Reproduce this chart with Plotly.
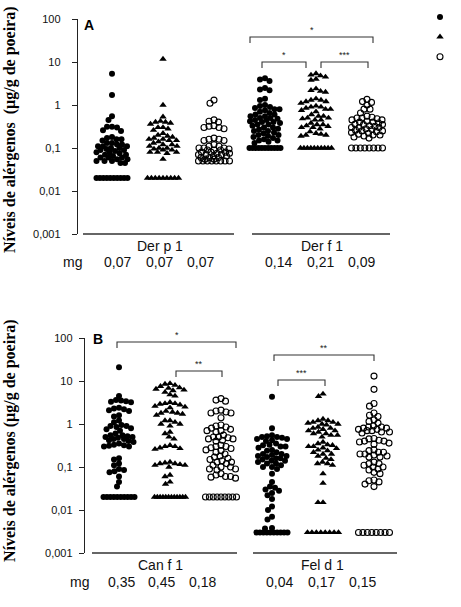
import numpy as np
import plotly.graph_objects as go

# ---------------- data ----------------
y_tickvals = [0.001, 0.01, 0.1, 1, 10, 100]
y_ticktext = ["0,001", "0,01", "0,1", "1", "10", "100"]

panel_labels = ["A", "B"]
allergens_A = ["Der p 1", "Der f 1"]
allergens_B = ["Can f 1", "Fel d 1"]
mg_label = "mg"
mg_A = ["0,07", "0,07", "0,07", "0,14", "0,21", "0,09"]
mg_B = ["0,35", "0,45", "0,18", "0,04", "0,17", "0,15"]
y_title_A = "Níveis de alérgenos\u00a0 (µg/g de poeira)"
y_title_B = "Níveis de alérgenos (µg/g de poeira)"

der_p1_circle = [5.3, 1.7, 0.55, 0.45, 0.31, 0.31, 0.30, 0.26, 0.25, 0.18, 0.17, 0.16, 0.16, 0.15,
                 0.13, 0.13, 0.12, 0.12, 0.11, 0.11, 0.11, 0.10, 0.10, 0.095, 0.09, 0.09, 0.085,
                 0.08, 0.08, 0.075, 0.07, 0.07, 0.065, 0.06, 0.06, 0.06, 0.055, 0.055, 0.05, 0.05,
                 0.05, 0.045, 0.045, 0.02, 0.02, 0.02, 0.02, 0.02, 0.02, 0.02, 0.02, 0.02, 0.02]
der_p1_triangle = [11.7, 1.0, 0.53, 0.42, 0.40, 0.40, 0.38, 0.36, 0.30, 0.30, 0.28, 0.26, 0.22,
                   0.20, 0.19, 0.18, 0.17, 0.16, 0.16, 0.15, 0.15, 0.14, 0.13, 0.12, 0.12, 0.11,
                   0.11, 0.10, 0.10, 0.095, 0.09, 0.09, 0.08, 0.08, 0.08, 0.075, 0.055,
                   0.02, 0.02, 0.02, 0.02, 0.02, 0.02, 0.02, 0.02, 0.02]
der_p1_open = [1.3, 1.1, 0.45, 0.42, 0.40, 0.33, 0.32, 0.30, 0.30, 0.28, 0.17, 0.16, 0.16, 0.15,
               0.15, 0.12, 0.11, 0.11, 0.10, 0.10, 0.10, 0.095, 0.09, 0.09, 0.09, 0.08, 0.08,
               0.08, 0.075, 0.075, 0.07, 0.07, 0.07, 0.065, 0.065, 0.06, 0.06, 0.06, 0.055, 0.055,
               0.05, 0.05, 0.05, 0.05, 0.05, 0.05, 0.05, 0.05]
der_f1_circle = [4.2, 3.9, 3.6, 2.5, 2.3, 2.2, 1.4, 1.3, 1.0, 0.95, 0.9, 0.85, 0.8, 0.8, 0.75,
                 0.7, 0.65, 0.6, 0.6, 0.55, 0.55, 0.5, 0.5, 0.48, 0.45, 0.45, 0.42, 0.4, 0.4,
                 0.38, 0.35, 0.35, 0.33, 0.3, 0.3, 0.28, 0.27, 0.25, 0.25, 0.23, 0.22, 0.2, 0.2,
                 0.19, 0.18, 0.17, 0.16, 0.15, 0.15, 0.14, 0.13,
                 0.1, 0.1, 0.1, 0.1, 0.1, 0.1, 0.1, 0.1, 0.1, 0.1, 0.1]
der_f1_triangle = [5.4, 5.0, 4.8, 4.5, 4.0, 3.8, 2.4, 2.2, 2.1, 2.0, 1.4, 1.3, 1.3, 1.2, 1.2,
                   1.1, 0.95, 0.9, 0.9, 0.85, 0.8, 0.8, 0.75, 0.7, 0.6, 0.55, 0.55, 0.5, 0.5,
                   0.48, 0.45, 0.45, 0.38, 0.35, 0.35, 0.33, 0.32, 0.3, 0.3, 0.28, 0.24, 0.22,
                   0.21, 0.2, 0.2, 0.19,
                   0.1, 0.1, 0.1, 0.1, 0.1, 0.1, 0.1, 0.1, 0.1, 0.1]
der_f1_open = [1.35, 1.2, 1.15, 1.0, 0.8, 0.8, 0.65, 0.55, 0.52, 0.5, 0.5, 0.48, 0.45, 0.45,
               0.42, 0.4, 0.4, 0.38, 0.36, 0.35, 0.35, 0.33, 0.32, 0.3, 0.3, 0.3, 0.28, 0.27,
               0.26, 0.25, 0.25, 0.24, 0.23, 0.22, 0.21, 0.2, 0.2, 0.19, 0.18, 0.17,
               0.1, 0.1, 0.1, 0.1, 0.1, 0.1, 0.1, 0.1]

can_f1_circle = [21, 4.5, 3.6, 3.5, 3.4, 3.3, 3.2, 2.4, 2.3, 2.2, 2.1, 2.0, 1.6, 1.5, 1.2, 1.1,
                 0.95, 0.9, 0.9, 0.85, 0.8, 0.75, 0.7, 0.6, 0.55, 0.55, 0.52, 0.5, 0.5, 0.48,
                 0.45, 0.45, 0.42, 0.4, 0.38, 0.35, 0.33, 0.32, 0.31, 0.3, 0.3, 0.16, 0.15, 0.12,
                 0.11, 0.09, 0.085, 0.08, 0.075, 0.06, 0.045, 0.035,
                 0.02, 0.02, 0.02, 0.02, 0.02, 0.02, 0.02, 0.02, 0.02, 0.02]
can_f1_triangle = [8.8, 8.5, 8.0, 7.5, 7.0, 6.8, 6.5, 6.2, 6.0, 5.5, 4.8, 4.5, 3.2, 3.0, 3.0,
                   2.9, 2.8, 2.6, 2.5, 2.4, 2.0, 1.9, 1.8, 1.8, 1.7, 1.6, 1.2, 1.2, 1.1, 1.0,
                   1.0, 0.9, 0.65, 0.6, 0.5, 0.45, 0.32, 0.3, 0.3, 0.28, 0.27, 0.26, 0.13, 0.125,
                   0.12, 0.12, 0.115, 0.11, 0.11, 0.1, 0.065, 0.06, 0.045, 0.04,
                   0.02, 0.02, 0.02, 0.02, 0.02, 0.02, 0.02, 0.02, 0.02, 0.02, 0.02, 0.02]
can_f1_open = [3.9, 3.6, 3.4, 2.1, 2.0, 1.9, 1.8, 1.8, 1.4, 0.95, 0.9, 0.85, 0.8, 0.75, 0.7,
               0.7, 0.65, 0.55, 0.5, 0.5, 0.48, 0.45, 0.45, 0.42, 0.4, 0.32, 0.3, 0.3, 0.28,
               0.27, 0.25, 0.24, 0.22, 0.2, 0.18, 0.17, 0.16, 0.15, 0.14, 0.13, 0.13, 0.12,
               0.11, 0.1, 0.1, 0.09, 0.09, 0.085, 0.07, 0.065, 0.06, 0.06, 0.058, 0.055,
               0.02, 0.02, 0.02, 0.02, 0.02, 0.02, 0.02, 0.02, 0.02]
fel_d1_circle = [4.3, 0.8, 0.55, 0.52, 0.5, 0.5, 0.48, 0.45, 0.45, 0.42, 0.4, 0.35, 0.33, 0.32,
                 0.3, 0.3, 0.28, 0.25, 0.24, 0.22, 0.2, 0.2, 0.19, 0.18, 0.18, 0.17, 0.16, 0.16,
                 0.15, 0.14, 0.14, 0.13, 0.12, 0.12, 0.11, 0.1, 0.1, 0.09, 0.07, 0.045, 0.035,
                 0.033, 0.03, 0.028, 0.025, 0.022, 0.018, 0.012, 0.01, 0.007, 0.006, 0.0038,
                 0.0037, 0.003, 0.003, 0.003, 0.003, 0.003, 0.003, 0.003, 0.003, 0.003, 0.003]
fel_d1_triangle = [5.0, 4.4, 1.3, 1.2, 1.2, 1.1, 1.1, 1.05, 1.0, 1.0, 0.95, 0.85, 0.8, 0.8, 0.75,
                   0.7, 0.7, 0.65, 0.6, 0.6, 0.55, 0.55, 0.5, 0.38, 0.35, 0.33, 0.32, 0.3, 0.3,
                   0.28, 0.27, 0.25, 0.24, 0.22, 0.2, 0.2, 0.18, 0.16, 0.15, 0.13, 0.12, 0.12,
                   0.11, 0.07, 0.042, 0.015, 0.015,
                   0.003, 0.003, 0.003, 0.003, 0.003, 0.003, 0.003, 0.003]
fel_d1_open = [13, 6.4, 3.0, 2.6, 1.8, 1.6, 1.5, 1.25, 1.15, 1.05, 0.9, 0.85, 0.85, 0.8, 0.8,
               0.75, 0.75, 0.7, 0.7, 0.65, 0.65, 0.62, 0.46, 0.45, 0.42, 0.4, 0.4, 0.38, 0.36,
               0.34, 0.25, 0.24, 0.22, 0.22, 0.2, 0.2, 0.19, 0.18, 0.17, 0.17, 0.13, 0.12, 0.12,
               0.11, 0.1, 0.1, 0.09, 0.085, 0.075, 0.07, 0.05, 0.048, 0.045, 0.04, 0.035,
               0.003, 0.003, 0.003, 0.003, 0.003, 0.003, 0.003, 0.003]

# significance: (group_i, group_j, label)
sig_A = [(3, 5, "*"), (3, 4, "*"), (4, 5, "***")]
sig_B = [(0, 2, "*"), (1, 2, "**"), (3, 5, "**"), (3, 4, "***")]

# ---------------- layout helpers ----------------
W, H = 461, 607
PPD = 43.0     # pixels per decade
PPX = 51.0     # pixels per group step


def P(px):
    return px / W


def Q(py):
    return 1 - py / H


def swarm_offsets(values, ppd=PPD, d=5.0, half=15.5):
    v = np.asarray(values, float)
    y = np.log10(v) * ppd
    n = len(v)
    x = np.full(n, np.nan)
    uniq, counts = np.unique(v, return_counts=True)
    for u, c in zip(uniq, counts):
        if c >= 5:
            idx = np.where(v == u)[0]
            step = min(d * 1.1, 2 * half / (c - 1))
            x[idx] = (np.arange(c) - (c - 1) / 2) * step
    cand = np.arange(-half, half + 1e-9, 0.5)
    cand = cand[np.argsort(np.abs(cand) + 1e-6 * (cand > 0), kind="stable")]
    order = np.argsort(-y, kind="stable")
    for i in order:
        if not np.isnan(x[i]):
            continue
        mask = ~np.isnan(x) & (np.abs(y - y[i]) < d)
        px, py = x[mask], y[mask]
        if len(px) == 0:
            x[i] = 0.0
            continue
        dist = np.sqrt((cand[:, None] - px[None, :]) ** 2 + (y[i] - py[None, :]) ** 2).min(axis=1)
        ok = np.where(dist >= d)[0]
        x[i] = cand[ok[0]] if len(ok) else cand[np.argmax(dist)]
    return x / PPX


panels = [
    dict(groups=[der_p1_circle, der_p1_triangle, der_p1_open,
                 der_f1_circle, der_f1_triangle, der_f1_open],
         x0=112, axis_px=78, right_px=400, top=19, bottom=234),
    dict(groups=[can_f1_circle, can_f1_triangle, can_f1_open,
                 fel_d1_circle, fel_d1_triangle, fel_d1_open],
         x0=119, axis_px=85, right_px=405, top=338, bottom=553),
]

symbols = [
    dict(symbol="circle", size=6, color="black", line=dict(width=0)),
    dict(symbol="triangle-up", size=6.5, color="black", line=dict(width=0)),
    dict(symbol="circle-open", size=6, color="black", line=dict(width=1.1, color="black")),
]

fig = go.Figure()

for pi, pan in enumerate(panels):
    xa = "x" if pi == 0 else "x2"
    ya = "y" if pi == 0 else "y2"
    for si in range(3):
        xs, ys = [], []
        for gi in (si, si + 3):
            vals = pan["groups"][gi]
            off = swarm_offsets(vals)
            xs.extend(list(gi + off))
            ys.extend(vals)
        fig.add_trace(go.Scatter(
            x=xs, y=ys, mode="markers", xaxis=xa, yaxis=ya,
            marker=symbols[si], name="", showlegend=(pi == 0),
            hoverinfo="y"))

axis_common = dict(type="log", range=[-3, 2], tickvals=y_tickvals, ticktext=y_ticktext,
                   ticks="outside", ticklen=5, tickwidth=1.2, tickcolor="#222",
                   showline=True, linecolor="#222", linewidth=1.4, showgrid=False,
                   zeroline=False, tickfont=dict(family="Liberation Sans, Arial", size=11,
                                                 color="#111"))
for pi, pan in enumerate(panels):
    xr = [(pan["axis_px"] - pan["x0"]) / PPX, (pan["right_px"] - pan["x0"]) / PPX]
    xkey = "xaxis" if pi == 0 else "xaxis2"
    ykey = "yaxis" if pi == 0 else "yaxis2"
    fig.update_layout(**{
        xkey: dict(domain=[P(pan["axis_px"]), P(pan["right_px"])], range=xr, visible=False,
                   anchor="y" if pi == 0 else "y2"),
        ykey: dict(domain=[Q(pan["bottom"]), Q(pan["top"])],
                   anchor="x" if pi == 0 else "x2",
                   ticklabelstandoff=9 if pi == 0 else 4, **axis_common),
    })

shapes = []
annotations = []
line_col = "#333"


def label(text, px, py, font, **kw):
    annotations.append(dict(text=text, x=P(px), y=Q(py), xref="paper", yref="paper",
                            xanchor="center", yanchor="middle", showarrow=False,
                            font=font, **kw))


# x baselines
baselines = [(234, [(83, 234), (252, 390)]), (553, [(92, 237), (253, 397)])]
for yb, segs in baselines:
    for a, b in segs:
        shapes.append(dict(type="line", xref="paper", yref="paper", x0=P(a), x1=P(b),
                           y0=Q(yb), y1=Q(yb), line=dict(color=line_col, width=1.4)))

# category and mg labels
lab_font = dict(family="Liberation Sans, Arial", size=14, color="#111")
cat_pos = [[(160, 246), (322, 246)], [(160, 565), (322, 565)]]
mg_pos = [[117, 159, 200, 278, 320, 361], [121, 161, 202, 279, 321, 362]]
mg_y = [262, 582]
mg_x = [72, 79]
for pi, (cats, mgs) in enumerate([(allergens_A, mg_A), (allergens_B, mg_B)]):
    for c, (cx, cy) in zip(cats, cat_pos[pi]):
        label(c, cx, cy, lab_font)
    for m, mx in zip(mgs, mg_pos[pi]):
        label(m, mx, mg_y[pi], lab_font)
    label(mg_label, mg_x[pi], mg_y[pi], lab_font)

# panel letters
for lab, (lx, ly) in zip(panel_labels, [(89, 25), (98, 339)]):
    label(lab, lx, ly, dict(family="Liberation Sans, Arial", size=14, color="#000",
                            weight="bold"))

# y axis titles
for txt, (tx, ty) in [(y_title_A, (10, 130)), (y_title_B, (10, 441))]:
    label(txt, tx, ty, dict(family="Liberation Serif, Times New Roman", size=16,
                            color="#000", weight="bold"), textangle=-90)

# significance brackets (pixel geometry)
bracket_geo = [
    [(250, 373, 37), (262, 306, 62), (321, 368, 62)],
    [(117, 236, 342), (176, 222, 371), (274, 374, 355), (278, 325, 380)],
]
for pi, sigs in enumerate([sig_A, sig_B]):
    for (gi, gj, lab), (xa, xb, yt) in zip(sigs, bracket_geo[pi]):
        path = f"M {P(xa)} {Q(yt + 6)} L {P(xa)} {Q(yt)} L {P(xb)} {Q(yt)} L {P(xb)} {Q(yt + 6)}"
        shapes.append(dict(type="path", xref="paper", yref="paper", path=path,
                           line=dict(color=line_col, width=1.1)))
        label(lab, (xa + xb) / 2, yt - 7,
              dict(family="Liberation Sans, Arial", size=9, color="#222"))

fig.update_layout(
    width=W, height=H, margin=dict(l=0, r=0, t=0, b=0, autoexpand=False),
    paper_bgcolor="white", plot_bgcolor="white",
    shapes=shapes, annotations=annotations,
    showlegend=True,
    legend=dict(x=P(420), y=Q(2), xanchor="left", yanchor="top", bgcolor="rgba(0,0,0,0)",
                font=dict(size=13), itemwidth=30, tracegroupgap=0),
)

fig.write_html("out.html", post_script="document.body.style.margin='0px';",
               config={"displayModeBar": False})
